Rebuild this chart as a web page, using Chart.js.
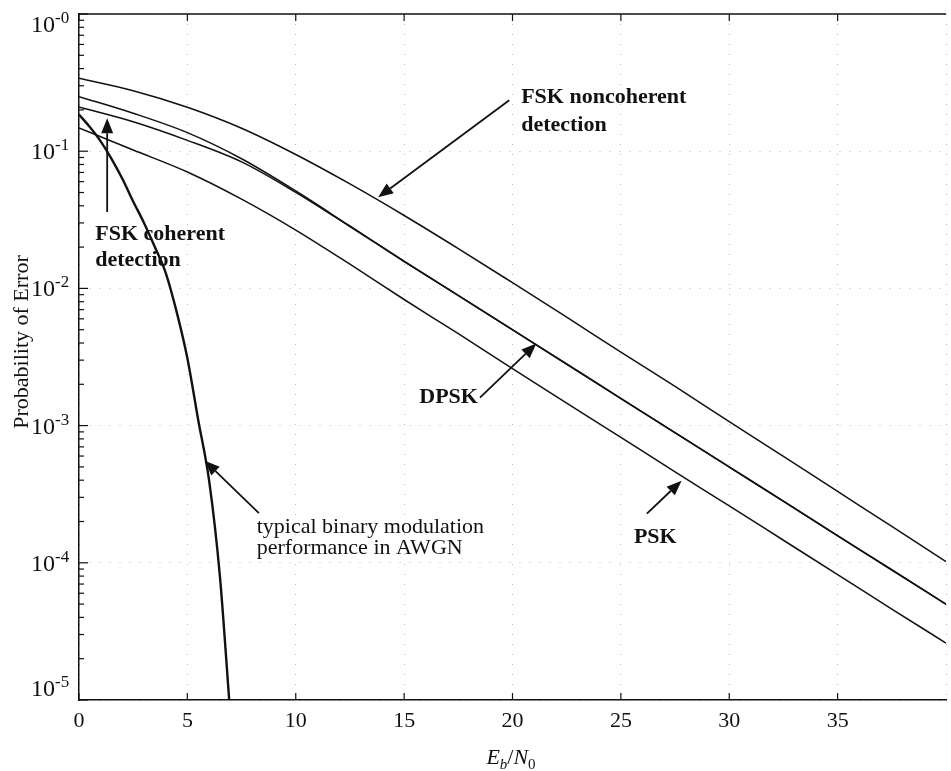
<!DOCTYPE html>
<html lang="en">
<head>
  <meta charset="UTF-8" />
  <title>Probability of Error vs Eb/N0</title>
  <script src="https://cdn.jsdelivr.net/npm/chart.js"></script>
  <style>
    html, body { margin: 0; padding: 0; background: #fff; overflow: hidden; }
    /* a little wider than the window so x = 40 falls just off the right edge */
    .wrap { width: 954px; height: 771px; position: relative; }
  </style>
</head>
<body>
  <div class="wrap"><canvas id="berChart"></canvas></div>

  <script>
    // Eb/N0 (dB) sample points for the fading curves
    const ebno = [0, 2.5, 5, 7.5, 10, 12.5, 15, 17.5, 20, 22.5, 25, 27.5, 30, 32.5, 35, 37.5, 40];
    const fskNoncoherent = [0.34, 0.276, 0.209, 0.147, 0.0946, 0.0577, 0.034, 0.0195, 0.011, 0.00617, 0.00343, 0.00193, 0.00107, 0.000596, 0.000331, 0.000184, 0.000102];
    const dpsk = [0.25, 0.189, 0.1365, 0.0881, 0.0513, 0.0285, 0.0158, 0.0089, 0.005, 0.00282, 0.00158, 0.00089, 0.0005, 0.000282, 0.000158, 0.000089, 0.00005];
    const fskCoherent = [0.21, 0.164, 0.12, 0.0836, 0.0501, 0.0282, 0.0157, 0.00885, 0.00498, 0.0028, 0.00157, 0.000885, 0.000498, 0.00028, 0.000157, 0.0000885, 0.0000498];
    const psk = [0.148, 0.102, 0.0705, 0.0447, 0.0266, 0.015, 0.0083, 0.00468, 0.0026, 0.00146, 0.00082, 0.00046, 0.00026, 0.000146, 0.000082, 0.000046, 0.000026];

    // steep AWGN curve on the left
    const awgnX = [0, 0.5, 1, 1.5, 2, 2.5, 3, 3.5, 4, 4.5, 5, 5.5, 6, 6.5, 6.93];
    const awgnVals = [0.185, 0.15, 0.118, 0.088, 0.063, 0.043, 0.030, 0.020, 0.013, 0.0068, 0.0031, 0.0011, 0.0004, 0.00008, 0.00001];

    // axis ticks
    const xTicks = [0, 5, 10, 15, 20, 25, 30, 35];
    const yDecades = [1, 1e-1, 1e-2, 1e-3, 1e-4, 1e-5];
    const yExponents = ['-0', '-1', '-2', '-3', '-4', '-5'];

    // text callouts: label anchor and arrow in data units
    const callouts = [
      { lines: ['FSK noncoherent', 'detection'], at: [20.4, 0.224], bold: true, lh: 28, from: [19.85, 0.235], to: [13.8, 0.0461] },
      { lines: ['FSK coherent', 'detection'], at: [0.75, 0.0224], bold: true, lh: 26, from: [1.3, 0.036], to: [1.3, 0.174] },
      { lines: ['DPSK'], at: [15.7, 0.00145], bold: true, lh: 0, from: [18.5, 0.0016], to: [21.1, 0.00397] },
      { lines: ['PSK'], at: [25.6, 0.00014], bold: true, lh: 0, from: [26.2, 0.000228], to: [27.8, 0.000397] },
      { lines: ['typical binary modulation', 'performance in AWGN'], at: [8.2, 0.000166], bold: false, lh: 21, from: [8.3, 0.00023], to: [5.8, 0.000555] }
    ];

    const SERIF = '"Liberation Serif", "DejaVu Serif", serif';
    const INK = '#111';
    const GRID = 'rgba(0,0,0,0.28)';

    const isDecade = v => Math.abs(Math.log10(v) - Math.round(Math.log10(v))) < 1e-9;

    // log ticks 1..9 per decade
    const yTickValues = [];
    for (let e = -5; e < 0; e++) {
      for (let m = 1; m < 10; m++) yTickValues.push(m * Math.pow(10, e));
    }
    yTickValues.push(1);

    const toPoints = (xs, ys) => xs.map((v, i) => ({ x: v, y: ys[i] }));

    function makeSet(label, xs, ys, width) {
      return {
        label,
        data: toPoints(xs, ys),
        borderColor: INK,
        borderWidth: width,
        pointRadius: 0,
        fill: false,
        cubicInterpolationMode: 'monotone'
      };
    }

    function arrow(ctx, x1, y1, x2, y2) {
      const ang = Math.atan2(y2 - y1, x2 - x1);
      const head = 15, half = 6;
      const bx = x2 - head * Math.cos(ang), by = y2 - head * Math.sin(ang);
      ctx.beginPath();
      ctx.moveTo(x1, y1);
      ctx.lineTo(bx, by);
      ctx.stroke();
      ctx.beginPath();
      ctx.moveTo(x2, y2);
      ctx.lineTo(bx + half * Math.sin(ang), by - half * Math.cos(ang));
      ctx.lineTo(bx - half * Math.sin(ang), by + half * Math.cos(ang));
      ctx.closePath();
      ctx.fill();
    }

    // frame ticks, y labels with exponents, axis titles and callouts
    const decorations = {
      id: 'decorations',
      afterDraw(chart) {
        const { ctx, chartArea: a, scales: { x, y } } = chart;
        ctx.save();
        ctx.strokeStyle = INK;
        ctx.fillStyle = INK;
        ctx.lineWidth = 1.4;

        // top frame line
        ctx.beginPath();
        ctx.moveTo(a.left, a.top);
        ctx.lineTo(a.right, a.top);
        ctx.stroke();

        // inward ticks
        ctx.lineWidth = 1.2;
        y.ticks.forEach(t => {
          const py = y.getPixelForValue(t.value);
          const len = isDecade(t.value) ? 9 : 5;
          ctx.beginPath();
          ctx.moveTo(a.left, py);
          ctx.lineTo(a.left + len, py);
          ctx.stroke();
        });
        xTicks.forEach(v => {
          const px = x.getPixelForValue(v);
          ctx.beginPath();
          ctx.moveTo(px, a.bottom);
          ctx.lineTo(px, a.bottom - 7);
          ctx.moveTo(px, a.top);
          ctx.lineTo(px, a.top + 7);
          ctx.stroke();
        });

        // y tick labels: 10 with raised exponent
        ctx.textBaseline = 'alphabetic';
        yDecades.forEach((v, i) => {
          let py = y.getPixelForValue(v);
          if (i === 0) py += 10;
          if (i === yDecades.length - 1) py -= 12;
          ctx.font = '24px ' + SERIF;
          ctx.textAlign = 'left';
          ctx.fillText('10', 31, py + 8);
          const w = ctx.measureText('10').width;
          ctx.font = '17px ' + SERIF;
          ctx.fillText(yExponents[i], 31 + w, py - 1);
        });

        // y title
        ctx.save();
        ctx.translate(28, 342);
        ctx.rotate(-Math.PI / 2);
        ctx.font = '22px ' + SERIF;
        ctx.textAlign = 'center';
        ctx.fillText('Probability of Error', 0, 0);
        ctx.restore();

        // x title: Eb/N0
        const parts = [
          { t: 'E', f: 'italic 22px ', dy: 0 },
          { t: 'b', f: 'italic 15px ', dy: 5 },
          { t: '/', f: '22px ', dy: 0 },
          { t: 'N', f: 'italic 22px ', dy: 0 },
          { t: '0', f: '15px ', dy: 5 }
        ];
        let total = 0;
        parts.forEach(p => { ctx.font = p.f + SERIF; p.w = ctx.measureText(p.t).width; total += p.w; });
        let cx = 511 - total / 2;
        ctx.textAlign = 'left';
        parts.forEach(p => {
          ctx.font = p.f + SERIF;
          ctx.fillText(p.t, cx, 764 + p.dy);
          cx += p.w;
        });

        // callouts
        ctx.lineWidth = 1.8;
        callouts.forEach(c => {
          ctx.font = (c.bold ? 'bold ' : '') + '22px ' + SERIF;
          const tx = x.getPixelForValue(c.at[0]);
          const ty = y.getPixelForValue(c.at[1]);
          c.lines.forEach((ln, k) => ctx.fillText(ln, tx, ty + k * c.lh));
          arrow(ctx,
            x.getPixelForValue(c.from[0]), y.getPixelForValue(c.from[1]),
            x.getPixelForValue(c.to[0]), y.getPixelForValue(c.to[1]));
        });

        ctx.restore();
      }
    };

    const ctx = document.getElementById('berChart').getContext('2d');
    new Chart(ctx, {
      type: 'line',
      data: {
        datasets: [
          makeSet('FSK noncoherent', ebno, fskNoncoherent, 1.5),
          makeSet('DPSK', ebno, dpsk, 1.5),
          makeSet('FSK coherent', ebno, fskCoherent, 1.5),
          makeSet('PSK', ebno, psk, 1.5),
          makeSet('AWGN', awgnX, awgnVals, 2.4)
        ]
      },
      options: {
        responsive: true,
        maintainAspectRatio: false,
        animation: false,
        layout: { padding: { top: 14, left: 0, right: 0, bottom: 0 } },
        plugins: {
          legend: { display: false },
          tooltip: { enabled: false }
        },
        scales: {
          x: {
            type: 'linear',
            min: 0,
            max: 40,
            afterFit: s => { s.height = 71; },
            ticks: {
              stepSize: 5,
              padding: 8,
              color: INK,
              font: { family: SERIF, size: 22 },
              callback: v => (xTicks.includes(v) ? v : '')
            },
            grid: { color: GRID, lineWidth: 1, drawTicks: false },
            border: { display: true, color: INK, width: 1.5, dash: [1, 9] }
          },
          y: {
            type: 'logarithmic',
            min: 1e-5,
            max: 1,
            afterFit: s => { s.width = 79; },
            afterBuildTicks: s => { s.ticks = yTickValues.map(v => ({ value: v })); },
            ticks: { display: false, autoSkip: false },
            grid: {
              color: c => (c.tick && isDecade(c.tick.value) ? GRID : 'rgba(0,0,0,0)'),
              lineWidth: 1,
              drawTicks: false
            },
            border: { display: true, color: INK, width: 1.5, dash: [1, 9] }
          }
        }
      },
      plugins: [decorations]
    });
  </script>
</body>
</html>
